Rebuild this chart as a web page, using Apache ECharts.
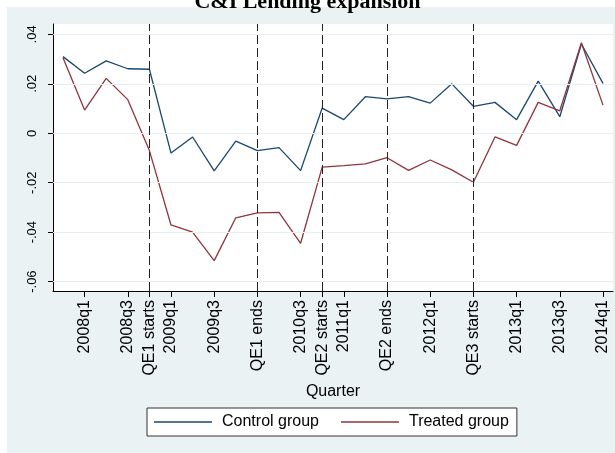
<!DOCTYPE html>
<html>
<head>
<meta charset="utf-8">
<script src="https://cdn.jsdelivr.net/npm/echarts@6/dist/echarts.min.js"></script>
<style>
html, body { margin: 0; padding: 0; background: #fff; }
#container { width: 615px; height: 453px; }
</style>
</head>
<body>
<div id="container"></div>
<script>
var quarters = ['2007q4', '2008q1', '2008q2', '2008q3', '2008q4', '2009q1', '2009q2', '2009q3', '2009q4',
    '2010q1', '2010q2', '2010q3', '2010q4', '2011q1', '2011q2', '2011q3', '2011q4', '2012q1', '2012q2',
    '2012q3', '2012q4', '2013q1', '2013q2', '2013q3', '2013q4', '2014q1'];

var control = [0.0310, 0.0243, 0.0293, 0.0261, 0.0259, -0.0080, -0.0015, -0.0152, -0.0032, -0.0070,
    -0.0058, -0.0151, 0.0102, 0.0055, 0.0148, 0.0139, 0.0148, 0.0122, 0.0200, 0.0109, 0.0125, 0.0055,
    0.0211, 0.0067, 0.0361, 0.0202];

var treated = [0.0305, 0.0094, 0.0222, 0.0136, -0.0070, -0.0371, -0.0400, -0.0515, -0.0342, -0.0322,
    -0.0320, -0.0445, -0.0137, -0.0131, -0.0124, -0.0099, -0.0150, -0.0108, -0.0148, -0.0198, -0.0015,
    -0.0049, 0.0125, 0.0091, 0.0366, 0.0114];

// x tick positions (index into quarters) and their labels
var xTicks = [1, 3, 4, 5, 7, 9, 11, 12, 13, 15, 17, 19, 21, 23, 25];
var xTickLabels = ['2008q1', '2008q3', 'QE1 starts', '2009q1', '2009q3', 'QE1 ends', '2010q3', 'QE2 starts',
    '2011q1', 'QE2 ends', '2012q1', 'QE3 starts', '2013q1', '2013q3', '2014q1'];

// QE events (index into quarters)
var qeEvents = [4, 9, 12, 15, 19];

var yTicks = [-0.06, -0.04, -0.02, 0, 0.02, 0.04];

var dom = document.getElementById("container");
var myChart = echarts.init(dom);

function pairs(arr) {
    return arr.map(function (v, i) { return [i, v]; });
}

var option = {
    animation: false,
    backgroundColor: '#fff',
    graphic: [{
        type: 'rect',
        z: -10,
        silent: true,
        shape: { x: 7, y: 7, width: 610, height: 450 },
        style: { fill: '#eaf2f3' }
    }],
    title: {
        text: 'C&I Lending expansion',
        left: 'center',
        top: -14,
        textStyle: {
            fontFamily: 'Liberation Serif',
            fontWeight: 'bold',
            fontSize: 22,
            color: '#000'
        }
    },
    grid: {
        left: 53,
        right: 2,
        top: 24,
        bottom: 162,
        show: true,
        backgroundColor: '#fff',
        borderWidth: 0
    },
    legend: {
        left: 147,
        top: 408,
        padding: [6, 8, 6, 7],
        icon: 'rect',
        itemWidth: 58,
        itemHeight: 1.3,
        itemGap: 22,
        backgroundColor: '#fff',
        borderColor: '#333',
        borderWidth: 1,
        borderRadius: 0,
        data: ['Control group', 'Treated group'],
        textStyle: {
            fontFamily: 'Liberation Sans',
            fontSize: 16,
            color: '#000',
            padding: [0, 0, 0, 5]
        }
    },
    xAxis: {
        type: 'value',
        min: -0.463,
        max: 25.463,
        name: 'Quarter',
        nameLocation: 'middle',
        nameGap: 92,
        nameTextStyle: { fontFamily: 'Liberation Sans', fontSize: 16, color: '#000' },
        axisLine: { onZero: false, lineStyle: { color: '#000', width: 1 } },
        axisTick: { length: 6, customValues: xTicks, lineStyle: { color: '#000' } },
        splitLine: { show: false },
        axisLabel: {
            customValues: xTicks,
            rotate: 90,
            margin: 9,
            fontFamily: 'Liberation Sans',
            fontSize: 16,
            color: '#000',
            formatter: function (v) {
                var k = xTicks.indexOf(Math.round(v));
                return k >= 0 ? xTickLabels[k] : '';
            }
        }
    },
    yAxis: {
        type: 'value',
        min: -0.0638,
        max: 0.0442,
        axisLine: { show: true, onZero: false, lineStyle: { color: '#000', width: 1 } },
        axisTick: { show: true, length: 5, customValues: yTicks, lineStyle: { color: '#000' } },
        splitLine: { show: false },
        axisLabel: {
            customValues: yTicks,
            rotate: 90,
            margin: 14,
            fontFamily: 'Liberation Sans',
            fontSize: 13,
            color: '#000',
            formatter: function (v) {
                if (Math.abs(v) < 1e-9) return '0';
                return String(Math.round(v * 100) / 100).replace('0.', '.');
            }
        }
    },
    series: [{
        name: 'grid',
        type: 'line',
        data: [],
        z: 1,
        silent: true,
        markLine: {
            silent: true,
            symbol: 'none',
            label: { show: false },
            lineStyle: { color: '#e6eff1', type: 'solid', width: 1 },
            data: yTicks.map(function (v) { return { yAxis: v }; })
        }
    }, {
        name: 'qe',
        type: 'line',
        data: [],
        z: 2,
        silent: true,
        markLine: {
            silent: true,
            symbol: 'none',
            label: { show: false },
            lineStyle: { color: '#222', type: [9, 4], width: 1 },
            data: qeEvents.map(function (v) { return { xAxis: v }; })
        }
    }, {
        name: 'Control group',
        type: 'line',
        z: 3,
        symbol: 'none',
        data: pairs(control),
        lineStyle: { color: '#1a476f', width: 1.3 },
        itemStyle: { color: '#1a476f' }
    }, {
        name: 'Treated group',
        type: 'line',
        z: 3,
        symbol: 'none',
        data: pairs(treated),
        lineStyle: { color: '#90353b', width: 1.3 },
        itemStyle: { color: '#90353b' }
    }]
};

if (option && typeof option === "object") {
    myChart.setOption(option, true);
}
</script>
</body>
</html>
